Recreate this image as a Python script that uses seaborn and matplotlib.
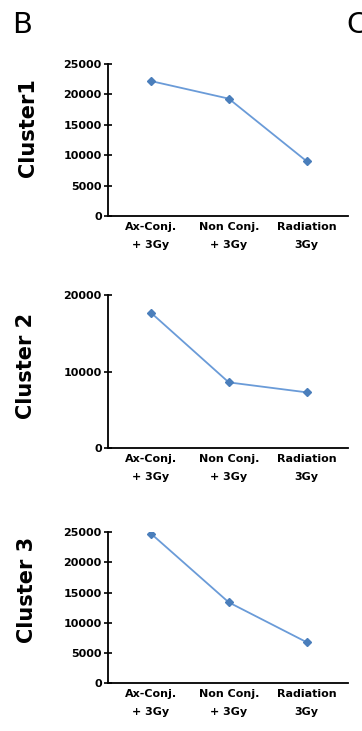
import matplotlib
matplotlib.use("Agg")
import matplotlib.pyplot as plt
import seaborn as sns
import pandas as pd

categories = ["Ax-Conj.\n+ 3Gy", "Non Conj.\n+ 3Gy", "Radiation\n3Gy"]
cluster1 = [22200, 19300, 9000]
cluster2 = [17700, 8600, 7300]
cluster3 = [24800, 13400, 6800]
titles = ["Cluster1", "Cluster 2", "Cluster 3"]
yticks1 = [0, 5000, 10000, 15000, 20000, 25000]
yticks2 = [0, 10000, 20000]
yticks3 = [0, 5000, 10000, 15000, 20000, 25000]

sns.set_style("white")
plt.rcParams["font.family"] = ["DejaVu Sans"]
plt.rcParams["text.color"] = "black"
plt.rcParams["xtick.color"] = "black"
plt.rcParams["ytick.color"] = "black"
plt.rcParams["axes.labelcolor"] = "black"

fig = plt.figure(figsize=(3.62, 7.31), dpi=100)
H = 731.0
W = 362.0

def ax_rect(top_px, bot_px, left_px=108, right_px=348):
    return [left_px / W, 1 - bot_px / H, (right_px - left_px) / W, (bot_px - top_px) / H]

panels = [
    (cluster1, titles[0], yticks1, 25000, ax_rect(64, 216), (-0.29, 0.58)),
    (cluster2, titles[1], yticks2, 20000, ax_rect(295, 448.3), (-0.30, 0.537)),
    (cluster3, titles[2], yticks3, 25000, ax_rect(532.3, 683.3), (-0.295, 0.62)),
]

line_color = "#6a9bd8"
marker_color = "#4a7ebb"

for vals, title, yt, ymax, rect, labpos in panels:
    ax = fig.add_axes(rect)
    df = pd.DataFrame({"cond": categories, "val": vals})
    sns.pointplot(data=df, x="cond", y="val", ax=ax, color=line_color,
                  markers="D", linestyles="-", errorbar=None,
                  markersize=4.5, linewidth=1.3)
    for ln in ax.lines:
        ln.set_markerfacecolor(marker_color)
        ln.set_markeredgecolor(marker_color)
    ax.set_ylim(0, ymax)
    ax.set_xlim(-0.55, 2.53)
    ax.set_yticks(yt)
    ax.set_yticklabels([str(v) for v in yt], fontsize=8, fontweight="bold")
    ax.set_xticks(range(len(categories)))
    ax.set_xticklabels(categories, fontsize=8, fontweight="bold", linespacing=2.0)
    ax.tick_params(axis="y", left=True, direction="inout", length=6, width=1.2,
                   color="black", pad=1.5)
    ax.tick_params(axis="x", bottom=False, length=0, pad=4)
    for s in ["top", "right"]:
        ax.spines[s].set_visible(False)
    for s in ["left", "bottom"]:
        ax.spines[s].set_color("black")
        ax.spines[s].set_linewidth(1.3)
    ax.set_xlabel("")
    ax.set_ylabel(title, fontsize=15, fontweight="bold")
    ax.yaxis.set_label_coords(*labpos)
    ax.patch.set_alpha(0)

fig.text(12 / W, 1 - 33 / H, "B", fontsize=21, ha="left", va="baseline")
fig.text(346 / W, 1 - 33 / H, "C", fontsize=21, ha="left", va="baseline")

fig.savefig("out.png", dpi=100)
